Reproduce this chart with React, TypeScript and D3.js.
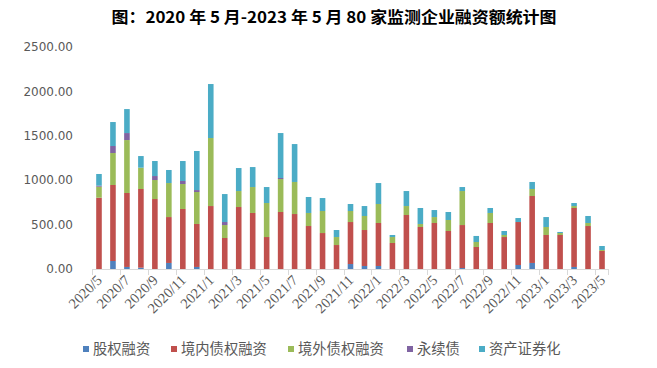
import React from "react";
import * as d3 from "d3";

const months = [
  "2020/5","2020/6","2020/7","2020/8","2020/9","2020/10","2020/11","2020/12",
  "2021/1","2021/2","2021/3","2021/4","2021/5","2021/6","2021/7","2021/8","2021/9","2021/10","2021/11","2021/12",
  "2022/1","2022/2","2022/3","2022/4","2022/5","2022/6","2022/7","2022/8","2022/9","2022/10","2022/11","2022/12",
  "2023/1","2023/2","2023/3","2023/4","2023/5",
];

const equity = [0,90,23,15,0,68,0,23, 0,0,0,0,0,0,0,0,0,0,56,34, 34,0,0,0,0,0,11,0,0,0,45,68, 0,0,23,0,0];
const domestic = [803,856,833,886,788,517,676,484, 709,349,698,631,360,642,619,484,405,270,473,405, 484,293,608,473,518,428,484,248,518,360,484,754, 383,383,664,484,203];
const foreign = [124,360,596,240,214,383,281,360, 766,146,180,292,383,371,361,147,248,90,124,158, 214,67,101,34,67,124,383,56,113,23,0,79, 90,22,22,34,11];
const perpetual = [11,79,79,0,45,0,34,22, 0,34,0,0,0,12,0,0,0,0,0,0, 0,0,0,0,0,0,0,0,0,0,0,0, 0,0,0,0,0];
const abs = [132,270,270,131,169,147,225,440, 608,315,259,225,180,506,427,180,146,79,79,112, 236,23,169,180,79,90,45,68,56,45,45,79, 112,12,34,79,45];

const seriesNames = ["股权融资", "境内债权融资", "境外债权融资", "永续债", "资产证券化"];
const seriesColors = ["#4F81BD", "#C0504D", "#9BBB59", "#8064A2", "#4BACC6"];
const yTicks = [0, 500, 1000, 1500, 2000, 2500];
const title = "图：2020 年 5 月-2023 年 5 月 80 家监测企业融资额统计图";

const W = 657, H = 368;
const legendX = [83, 171, 288, 407, 479];

export default function App() {
  const keys = ["s0", "s1", "s2", "s3", "s4"];
  const arrays = [equity, domestic, foreign, perpetual, abs];
  const rows = months.map((m, i) => {
    const r: any = { month: m };
    keys.forEach((k, j) => (r[k] = arrays[j][i]));
    return r;
  });
  const stacked = d3.stack().keys(keys)(rows);

  const x = d3.scaleBand().domain(months).range([92, 609]).paddingInner(0.6).paddingOuter(0.3);
  const y = d3.scaleLinear().domain([0, 2500]).range([269, 47]);
  const step = x.step();
  const font = "'Noto Sans CJK SC', 'DejaVu Sans', sans-serif";

  return (
    <svg width={W} height={H} style={{ position: "absolute", left: 0, top: 0, background: "#fff" }}>
      <rect x={0} y={0} width={W} height={H} fill="#fff" />
      <text x={334} y={23} textAnchor="middle" fontFamily="'Noto Sans CJK SC', sans-serif" fontWeight="bold" fontSize={16} fill="#000" textLength={445} lengthAdjust="spacingAndGlyphs">
        {title}
      </text>
      {yTicks.map((t) => (
        <text key={t} x={73} y={y(t)} dy="0.35em" textAnchor="end" fontFamily="'DejaVu Sans', sans-serif" fontSize={12} fill="#595959">
          {d3.format(".2f")(t)}
        </text>
      ))}
      {stacked.map((s, j) => (
        <g key={j} fill={seriesColors[j]}>
          {s.map((d, i) =>
            d[1] - d[0] > 0 ? (
              <rect key={i} x={x(months[i])} width={x.bandwidth()} y={y(d[1])} height={y(d[0]) - y(d[1])} />
            ) : null
          )}
        </g>
      ))}
      <line x1={92} x2={609} y1={269.5} y2={269.5} stroke="#D9D9D9" strokeWidth={1} />
      {months.map((m, i) =>
        i % 2 === 0 ? (
          <line key={m} x1={Math.round(x(m)! - (step - x.bandwidth()) / 2) + 0.5} x2={Math.round(x(m)! - (step - x.bandwidth()) / 2) + 0.5} y1={269} y2={275} stroke="#D9D9D9" />
        ) : null
      )}
      <line x1={608.5} x2={608.5} y1={269} y2={275} stroke="#D9D9D9" />
      {months.map((m, i) =>
        i % 2 === 0 ? (
          <text
            key={m}
            transform={`translate(${x(m)! + x.bandwidth() / 2 + 4},${281}) rotate(-45)`}
            textAnchor="end"
            fontFamily="'Liberation Serif', serif"
            fontSize={14.5}
            fill="#595959"
          >
            {m}
          </text>
        ) : null
      )}
      {seriesNames.map((n, j) => (
        <g key={n} transform={`translate(${legendX[j]},349)`}>
          <rect x={0} y={-3} width={6} height={6} fill={seriesColors[j]} />
          <text x={10} y={0} dy="0.35em" fontFamily={font} fontSize={14.3} fill="#595959">
            {n}
          </text>
        </g>
      ))}
    </svg>
  );
}
